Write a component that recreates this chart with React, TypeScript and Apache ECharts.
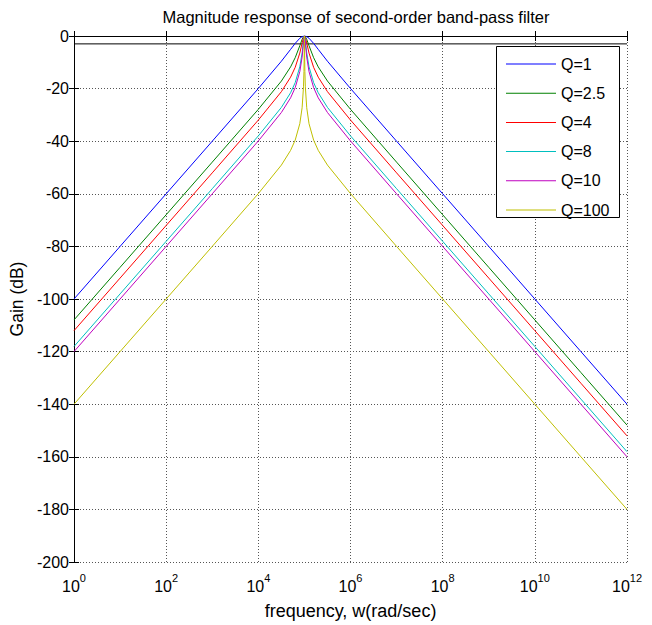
import React, { useEffect, useRef } from "react";
import * as echarts from "echarts";

// frequency, as log10(w) (rad/sec)
const freqExp = [
  0, 1, 2, 3, 4, 4.5, 4.7, 4.8, 4.9, 4.95, 4.98, 4.99, 4.995, 4.998,
  5,
  5.002, 5.005, 5.01, 5.02, 5.05, 5.1, 5.2, 5.3, 5.5, 6, 7, 8, 9, 10, 11, 12,
];

const gainQ1 = [
  -100, -80, -60, -40, -19.96, -9.59, -5.09, -2.81, -0.85, -0.23, -0.04, -0.01, 0, 0,
  0,
  0, 0, -0.01, -0.04, -0.23, -0.85, -2.81, -5.09, -9.59, -19.96, -40, -60, -80, -100, -120, -140,
];
const gainQ2_5 = [
  -107.96, -87.96, -67.96, -47.96, -27.88, -17.13, -11.75, -8.25, -3.71, -1.25, -0.22, -0.06, -0.01, 0,
  0,
  0, -0.01, -0.06, -0.22, -1.25, -3.71, -8.25, -11.75, -17.13, -27.88, -47.96, -67.96, -87.96, -107.96, -127.96, -147.96,
];
const gainQ4 = [
  -112.04, -92.04, -72.04, -52.04, -31.96, -21.16, -15.65, -11.92, -6.49, -2.67, -0.55, -0.15, -0.04, -0.01,
  0,
  -0.01, -0.04, -0.15, -0.55, -2.67, -6.49, -11.92, -15.65, -21.16, -31.96, -52.04, -72.04, -92.04, -112.04, -132.04, -152.04,
];
const gainQ8 = [
  -118.06, -98.06, -78.06, -58.06, -37.98, -27.15, -21.58, -17.73, -11.71, -6.44, -1.88, -0.55, -0.15, -0.02,
  0,
  -0.02, -0.15, -0.55, -1.88, -6.44, -11.71, -17.73, -21.58, -27.15, -37.98, -58.06, -78.06, -98.06, -118.06, -138.06, -158.06,
];
const gainQ10 = [
  -120, -100, -80, -60, -39.91, -29.09, -23.51, -19.64, -13.54, -8.01, -2.67, -0.84, -0.22, -0.04,
  0,
  -0.04, -0.22, -0.84, -2.67, -8.01, -13.54, -19.64, -23.51, -29.09, -39.91, -60, -80, -100, -120, -140, -160,
];
const gainQ100 = [
  -140, -120, -100, -80, -59.91, -49.08, -43.49, -39.59, -33.34, -27.27, -19.33, -13.47, -7.99, -2.67,
  0,
  -2.67, -7.99, -13.47, -19.33, -27.27, -33.34, -39.59, -43.49, -49.08, -59.91, -80, -100, -120, -140, -160, -180,
];

const seriesNames = ["Q=1", "Q=2.5", "Q=4", "Q=8", "Q=10", "Q=100"];
const seriesGains = [gainQ1, gainQ2_5, gainQ4, gainQ8, gainQ10, gainQ100];
const seriesColors = ["#0000ff", "#008000", "#ff0000", "#00bfbf", "#bf00bf", "#bfbf00"];

// -3 dB reference line
const cutoffLevel = -3;
const xRange = [0, 12];
const yRange = [-200, 0];

const FONT = "Liberation Sans, Arial, sans-serif";

export default function App() {
  const ref = useRef<HTMLDivElement>(null);

  useEffect(() => {
    if (!ref.current) return;
    const chart = echarts.init(ref.current, null, { renderer: "svg" });

    const curves = seriesNames.map((name, i) => ({
      name,
      type: "line",
      data: freqExp.map((e, k) => [e, seriesGains[i][k]]),
      symbol: "none",
      lineStyle: { color: seriesColors[i], width: 1 },
      itemStyle: { color: seriesColors[i] },
      z: 2,
    }));

    const gridLine = { show: true, lineStyle: { color: "#555", type: [1, 2], width: 1 } };
    const blackLine = { show: true, lineStyle: { color: "#000", width: 1 } };

    chart.setOption({
      animation: false,
      backgroundColor: "#fff",
      textStyle: { fontFamily: FONT },
      title: {
        text: "Magnitude response of second-order band-pass filter",
        left: 351,
        textAlign: "center",
        top: 3,
        textStyle: { fontFamily: FONT, fontSize: 16.5, fontWeight: "normal", color: "#000" },
      },
      grid: { left: 74, right: 25, top: 36, bottom: 62 },
      xAxis: [
        {
          type: "value",
          min: xRange[0],
          max: xRange[1],
          interval: 2,
          position: "bottom",
          axisLine: blackLine,
          axisTick: { show: true, inside: true, length: 5, lineStyle: { color: "#000" } },
          splitLine: gridLine,
          axisLabel: {
            margin: 10,
            color: "#000",
            formatter: (v: number) => `{b|10}{s|${v}}`,
            rich: {
              b: { fontFamily: FONT, fontSize: 16, lineHeight: 28, color: "#000" },
              s: { fontFamily: FONT, fontSize: 11, lineHeight: 10, verticalAlign: "top", color: "#000" },
            },
          },
          name: "frequency, w(rad/sec)",
          nameLocation: "middle",
          nameGap: 40,
          nameTextStyle: { fontFamily: FONT, fontSize: 18, color: "#000" },
        },
        {
          type: "value",
          min: xRange[0],
          max: xRange[1],
          interval: 2,
          position: "top",
          axisLine: blackLine,
          axisTick: { show: true, inside: true, length: 5, lineStyle: { color: "#000" } },
          splitLine: { show: false },
          axisLabel: { show: false },
        },
      ],
      yAxis: [
        {
          type: "value",
          min: yRange[0],
          max: yRange[1],
          interval: 20,
          position: "left",
          axisLine: blackLine,
          axisTick: { show: true, inside: true, length: 5, lineStyle: { color: "#000" } },
          splitLine: gridLine,
          axisLabel: { margin: 5, color: "#000", fontFamily: FONT, fontSize: 16 },
          name: "Gain (dB)",
          nameLocation: "middle",
          nameGap: 43,
          nameTextStyle: { fontFamily: FONT, fontSize: 17.5, color: "#000" },
        },
        {
          type: "value",
          min: yRange[0],
          max: yRange[1],
          interval: 20,
          position: "right",
          axisLine: blackLine,
          axisTick: { show: true, inside: true, length: 5, lineStyle: { color: "#000" } },
          splitLine: { show: false },
          axisLabel: { show: false },
        },
      ],
      legend: {
        data: seriesNames,
        orient: "vertical",
        left: 496,
        top: 47,
        padding: [9, 10, 10, 10],
        icon: "rect",
        itemWidth: 50,
        itemHeight: 1,
        itemGap: 13.2,
        z: 5,
        textStyle: { fontFamily: FONT, fontSize: 16, color: "#000", lineHeight: 14 },
      },
      graphic: [
        {
          type: "rect",
          z: 4,
          shape: { x: 496.5, y: 46.5, width: 123, height: 171 },
          style: { fill: "#fff", stroke: "#000", lineWidth: 1 },
        },
      ],
      series: [
        ...curves,
        {
          name: "-3dB",
          type: "line",
          data: [
            [xRange[0], cutoffLevel],
            [xRange[1], cutoffLevel],
          ],
          symbol: "none",
          lineStyle: { color: "#000", width: 1 },
          z: 1,
        },
      ],
    });

    return () => chart.dispose();
  }, []);

  return (
    <div
      ref={ref}
      style={{ position: "fixed", left: 0, top: 0, width: 652, height: 625 }}
    />
  );
}
